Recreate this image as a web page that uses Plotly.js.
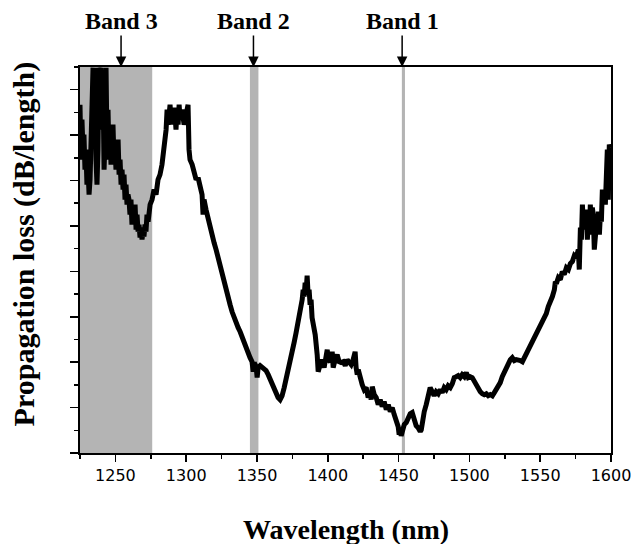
<!DOCTYPE html>
<html>
<head>
<meta charset="utf-8">
<script src="https://cdn.plot.ly/plotly-3.0.1.min.js"></script>
<style>html,body{margin:0;padding:0;background:#fff;}#chart{width:634px;height:544px;}</style>
</head>
<body>
<div id="chart"></div>
<script>
// Wavelength (nm)
const wavelength = [
1225.0,1225.7,1226.4,1227.1,1227.8,1228.5,1229.2,1229.9,1230.7,1231.4,1232.1,1232.8,1233.5,1234.2,1234.9,1235.6,1236.3,1237.0,1237.7,1238.4,
1239.1,1239.8,1240.5,1241.3,1242.0,1242.7,1243.4,1244.1,1244.8,1245.5,1246.2,1246.9,1247.6,1248.3,1249.0,1249.7,1250.4,1251.1,1251.9,1252.6,
1253.3,1254.0,1254.7,1255.4,1256.1,1256.8,1257.5,1258.2,1258.9,1259.6,1260.3,1261.0,1261.7,1262.5,1263.2,1263.9,1264.6,1265.3,1266.0,1266.7,
1267.4,1268.1,1268.8,1269.5,1270.2,1270.9,1271.6,1272.3,1273.1,1274.5,1275.9,1277.3,1278.7,1280.1,1281.5,1282.9,1284.4,1285.1,1285.8,1286.5,
1287.2,1287.9,1288.6,1289.3,1290.0,1290.7,1291.4,1292.1,1292.8,1293.5,1294.3,1295.0,1295.7,1297.1,1298.5,1299.9,1301.3,1302.0,1302.7,1304.2,
1305.6,1307.0,1308.4,1309.8,1311.2,1311.9,1312.6,1314.0,1315.5,1316.9,1318.3,1319.7,1321.1,1322.5,1323.9,1325.4,1326.8,1328.2,1329.6,1331.0,
1332.4,1333.8,1335.2,1336.7,1338.1,1339.5,1340.9,1342.3,1343.7,1345.1,1346.5,1347.3,1348.0,1349.4,1350.1,1350.8,1352.2,1354.3,1356.4,1357.9,
1359.3,1360.7,1362.1,1363.5,1364.9,1366.3,1367.7,1369.2,1370.6,1372.0,1373.4,1374.8,1376.2,1377.6,1379.1,1380.5,1381.9,1382.6,1383.3,1384.0,
1384.7,1385.4,1386.1,1386.8,1387.5,1388.2,1388.9,1389.7,1391.1,1392.5,1393.2,1394.6,1396.0,1397.4,1398.8,1399.6,1400.3,1401.7,1403.1,1403.8,
1405.2,1406.6,1408.0,1409.4,1410.9,1412.3,1413.7,1415.1,1416.5,1417.9,1419.3,1420.0,1420.8,1421.5,1422.9,1424.3,1425.7,1427.1,1428.5,1429.9,
1430.6,1431.4,1432.8,1434.2,1435.6,1437.0,1438.4,1439.8,1441.3,1442.7,1444.1,1445.5,1446.9,1448.3,1449.7,1450.4,1451.1,1451.8,1452.6,1454.0,
1455.4,1456.8,1458.2,1459.6,1461.0,1462.4,1463.8,1465.3,1466.0,1466.7,1468.1,1469.5,1470.9,1472.3,1473.7,1475.1,1476.5,1478.0,1479.4,1480.8,
1482.2,1483.6,1485.0,1486.5,1487.9,1489.3,1490.7,1492.1,1493.5,1494.9,1496.4,1497.8,1499.2,1500.6,1502.0,1503.4,1504.9,1506.3,1507.7,1509.1,
1510.5,1511.9,1513.3,1514.8,1516.2,1517.6,1519.0,1520.4,1521.8,1523.2,1524.6,1526.1,1527.5,1528.9,1530.3,1531.7,1533.1,1534.5,1536.0,1537.4,
1538.8,1540.2,1541.6,1543.0,1544.4,1545.8,1547.3,1548.7,1550.1,1551.5,1552.9,1554.3,1555.7,1557.2,1558.6,1560.0,1560.7,1561.4,1562.8,1564.2,
1565.6,1567.0,1568.5,1569.9,1571.3,1572.7,1574.1,1575.5,1576.9,1577.6,1578.4,1579.1,1579.8,1580.5,1581.2,1581.9,1582.6,1583.3,1584.0,1584.7,
1585.4,1586.1,1586.8,1587.5,1588.2,1589.0,1589.7,1590.4,1591.1,1591.8,1592.5,1593.2,1593.9,1594.6,1595.3,1596.0,1596.7,1597.4,1598.1,1598.8,1599.5
];
// Propagation loss (arbitrary dB/length units)
const loss = [
15.34,12.92,14.68,13.36,14.02,12.48,13.36,11.82,12.48,11.38,12.04,13.36,15.57,16.97,14.68,16.97,12.92,11.82,13.36,16.97,
15.12,16.97,14.24,16.00,12.48,13.80,16.97,13.36,15.12,12.92,14.24,12.70,13.80,14.46,12.92,13.58,12.48,13.36,13.80,12.26,
12.92,11.82,12.48,11.60,12.26,11.16,11.82,10.94,11.38,11.16,10.50,11.16,10.06,10.72,10.28,10.94,9.84,10.50,9.75,10.06,
9.49,9.93,9.40,9.75,9.53,10.06,9.75,10.50,10.19,10.94,11.16,11.60,11.38,12.04,12.26,12.70,13.36,13.80,14.24,15.12,
14.46,14.90,15.34,14.68,15.12,14.46,15.21,14.90,14.24,15.12,14.46,15.34,14.68,15.12,14.46,14.90,15.34,13.36,12.92,12.70,
12.26,12.04,12.13,11.60,11.38,10.50,11.16,10.72,10.28,9.84,9.57,9.26,8.96,8.60,8.16,7.77,7.41,7.11,6.84,6.53,
6.22,5.96,5.78,5.52,5.34,5.08,4.86,4.55,4.33,4.20,4.02,3.58,3.98,3.80,3.32,3.76,3.85,3.76,3.63,3.45,
3.23,3.01,2.79,2.57,2.44,2.35,2.52,2.88,3.23,3.67,4.11,4.46,4.86,5.30,5.78,6.31,6.75,7.19,6.89,7.50,
7.11,7.81,6.98,7.19,6.53,6.75,5.96,5.74,5.21,4.33,3.58,3.89,4.11,3.76,4.42,4.55,4.11,4.02,4.46,3.76,
4.11,4.33,4.02,3.98,4.02,3.85,4.11,3.98,3.89,4.11,4.46,3.76,3.45,3.67,3.23,3.01,2.79,2.88,2.44,2.66,
2.35,2.92,2.57,2.44,2.13,2.35,2.04,2.26,1.91,2.13,1.82,2.00,1.69,1.47,1.16,0.81,1.02,0.76,0.94,1.25,
1.34,1.56,1.73,1.78,1.47,1.20,1.11,0.94,1.02,1.47,1.82,2.13,2.57,2.88,2.70,2.52,2.70,2.61,2.79,2.66,
2.88,2.79,2.96,2.88,3.05,3.32,3.36,3.41,3.32,3.45,3.36,3.54,3.32,3.36,3.32,3.14,2.96,2.79,2.70,2.61,
2.57,2.61,2.52,2.57,2.52,2.66,2.79,2.96,3.10,3.36,3.58,3.76,3.93,4.11,4.20,4.07,4.11,4.11,4.07,4.02,
4.20,4.37,4.51,4.68,4.86,5.12,5.34,5.47,5.65,5.78,5.96,6.14,6.45,6.62,6.89,7.19,7.55,7.46,7.72,7.63,
7.99,7.86,8.16,8.08,8.34,8.43,8.69,8.60,8.96,8.08,9.93,9.40,10.94,10.06,10.37,9.84,10.72,9.40,10.19,9.62,
10.94,9.93,10.81,10.50,8.96,9.40,10.06,9.84,10.63,9.62,10.50,10.19,11.60,11.16,11.51,10.94,12.04,13.36,11.16,13.58,13.45
];
// Shaded bands [start, end] in nm and arrow positions
const bandNames = ["Band 3", "Band 2", "Band 1"];
const bandStart = [1225, 1345, 1452.3];
const bandEnd = [1276, 1351, 1454.5];
const bandArrow = [1254, 1347.5, 1452.5];
const xTickVals = [1250, 1300, 1350, 1400, 1450, 1500, 1550, 1600];

const serif = "Liberation Serif, Times New Roman, serif";

const shapes = bandStart.map((s, i) => ({
  type: 'rect', xref: 'x', yref: 'paper', x0: s, x1: bandEnd[i], y0: 0, y1: 1,
  fillcolor: '#b4b4b4', line: {width: 0}, layer: 'below'
}));

const annotations = bandNames.map((n, i) => ({
  x: bandArrow[i], y: 1, xref: 'x', yref: 'paper',
  text: '<b>' + n + '</b>', showarrow: true, ax: 0, ay: -46,
  arrowhead: 2, arrowsize: 1.4, arrowwidth: 1.5, arrowcolor: '#000',
  font: {family: serif, size: 24, color: '#000'}
}));
annotations.push({
  xref: 'paper', yref: 'paper', x: 0.5, y: -0.199, xanchor: 'center', yanchor: 'middle',
  showarrow: false, text: '<b>Wavelength (nm)</b>',
  font: {family: serif, size: 28, color: '#000'}
});
annotations.push({
  xref: 'paper', yref: 'paper', x: -0.1055, y: 0.543, xanchor: 'center', yanchor: 'middle',
  showarrow: false, textangle: -90, text: '<b>Propagation loss (dB/length)</b>',
  font: {family: serif, size: 30, color: '#000'}
});

const trace = {
  x: wavelength, y: loss, type: 'scatter', mode: 'lines',
  line: {color: '#000', width: 5}, hoverinfo: 'skip'
};

const layout = {
  width: 634, height: 544,
  margin: {l: 80, r: 23, t: 67, b: 91},
  paper_bgcolor: '#fff', plot_bgcolor: 'rgba(0,0,0,0)',
  showlegend: false,
  xaxis: {
    range: [1225, 1600], tickvals: xTickVals, ticktext: xTickVals.map(String),
    ticks: 'outside', ticklen: 7, tickwidth: 1.5, tickcolor: '#000',
    showline: true, linecolor: '#000', linewidth: 1.8, mirror: true,
    showgrid: false, zeroline: false,
    tickfont: {family: 'DejaVu Sans', size: 16, color: '#000'},
    minor: {dtick: 25, tick0: 1225, ticks: 'outside', ticklen: 4, tickwidth: 1.5, tickcolor: '#000', showgrid: false}
  },
  yaxis: {
    range: [0, 17], dtick: 2, tick0: 0, showticklabels: false,
    ticks: 'outside', ticklen: 8, tickwidth: 1.5, tickcolor: '#000',
    showline: true, linecolor: '#000', linewidth: 1.8, mirror: true,
    showgrid: false, zeroline: false,
    minor: {dtick: 1, tick0: 0, ticks: 'outside', ticklen: 4, tickwidth: 1.5, tickcolor: '#000', showgrid: false}
  },
  shapes: shapes,
  annotations: annotations
};

Plotly.newPlot('chart', [trace], layout, {displayModeBar: false, staticPlot: true});
</script>
</body>
</html>
